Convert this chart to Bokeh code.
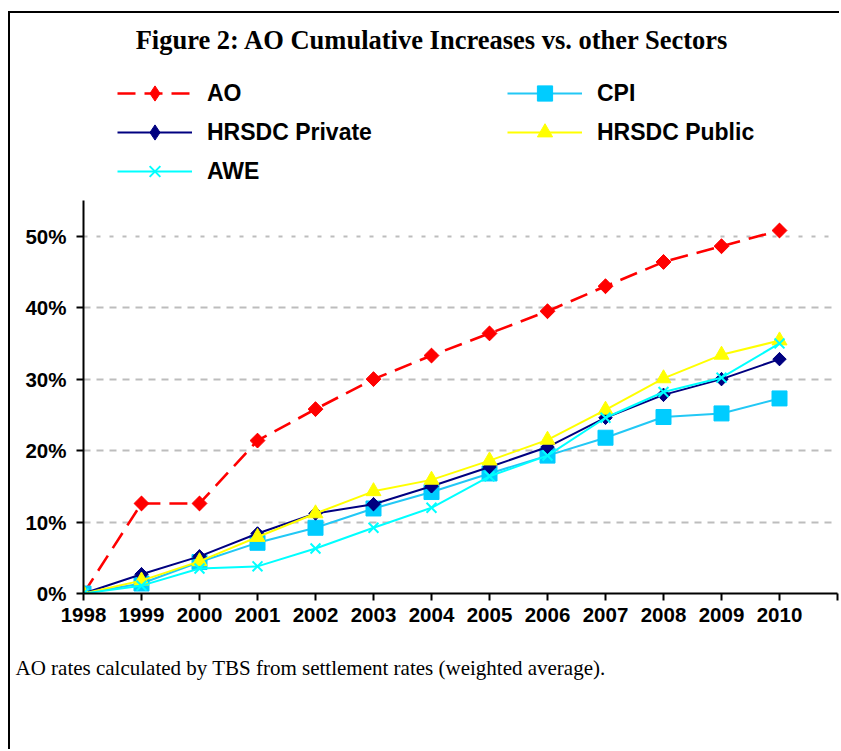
import numpy as np
from bokeh.plotting import figure
from bokeh.models import (Range1d, FixedTicker, PrintfTickFormatter, Legend, LegendItem,
                          Title, Label, Grid)
from bokeh.embed import file_html
from bokeh.resources import INLINE

# ---- data (cumulative increase, %) ----
years = [1998, 1999, 2000, 2001, 2002, 2003, 2004, 2005, 2006, 2007, 2008, 2009, 2010]
ao = [0, 12.6, 12.6, 21.4, 25.8, 30.0, 33.3, 36.4, 39.5, 43.0, 46.4, 48.6, 50.8]
cpi = [0, 1.4, 4.4, 7.1, 9.2, 11.9, 14.2, 16.8, 19.3, 21.8, 24.7, 25.2, 27.3]
hrsdc_private = [0, 2.7, 5.2, 8.4, 11.2, 12.5, 15.0, 17.7, 20.5, 24.6, 27.8, 30.0, 32.8]
hrsdc_public = [0, 1.8, 4.5, 7.9, 11.2, 14.3, 15.9, 18.6, 21.5, 25.7, 30.1, 33.4, 35.4]
awe = [0, 1.1, 3.5, 3.8, 6.3, 9.2, 12.0, 16.4, 19.3, 24.6, 28.2, 30.2, 35.0]

x_ticks = [1998, 1999, 2000, 2001, 2002, 2003, 2004, 2005, 2006, 2007, 2008, 2009, 2010, 2011]
y_ticks = [0, 10, 20, 30, 40, 50]
y_axis_max = 55

title_text = "Figure 2: AO Cumulative Increases vs. other Sectors"
note_text = "AO rates calculated by TBS from settlement rates (weighted average)."

# frame spans canvas top (page y=13) to page y=593; 55% must sit at page y=200
frame_h = 580
y_top = y_axis_max * frame_h / 393.0

p = figure(width=831, height=738, output_backend="svg", toolbar_location=None, title=None,
           x_range=Range1d(1998, 2011), y_range=Range1d(0, y_top),
           min_border_left=73, min_border_right=4, min_border_top=0, min_border_bottom=158,
           styles={"margin-left": "8px", "margin-top": "11px",
                   "border-left": "2px solid black", "border-top": "2px solid black"})
p.outline_line_color = None
p.background_fill_color = "white"
p.border_fill_color = "white"

# grid
p.xgrid.visible = False
p.ygrid.ticker = FixedTicker(ticks=[10, 20, 30, 40])
p.ygrid.grid_line_color = "#bdbdbd"
p.ygrid.grid_line_width = 2
p.ygrid.grid_line_dash = "7 6"
g50 = Grid(dimension=1, ticker=FixedTicker(ticks=[50]), grid_line_color="#bdbdbd",
           grid_line_width=2, grid_line_dash="4 9")
p.add_layout(g50)

# axes
for ax in (p.xaxis, p.yaxis):
    ax.axis_line_color = "black"
    ax.axis_line_width = 2
    ax.major_tick_line_color = "black"
    ax.major_tick_line_width = 2
    ax.major_tick_in = 0
    ax.major_tick_out = 7
    ax.minor_tick_line_color = None
    ax.major_label_text_font = "Liberation Sans"
    ax.major_label_text_font_style = "bold"
    ax.major_label_text_font_size = "20.5px"
    ax.major_label_text_color = "black"
p.xaxis.ticker = FixedTicker(ticks=x_ticks)
p.xaxis.major_label_overrides = {2011: ""}
p.xaxis.major_label_standoff = 7
p.yaxis.ticker = FixedTicker(ticks=y_ticks)
p.yaxis.bounds = (0, y_axis_max)
p.yaxis.formatter = PrintfTickFormatter(format="%d%%")
p.yaxis.major_label_standoff = 10

# series
l_ao = p.line(years, ao, line_color="#ff0000", line_width=2.6, line_dash="18 9")
d_ao = p.scatter(years, ao, marker="diamond", size=14,
                 fill_color="#ff0000", line_color="#ff0000")
s_ao = p.scatter(years, ao, marker="square", angle=np.pi / 4, size=10.5,
                 fill_color="#ff0000", line_color="#ff0000")
l_cpi = p.line(years, cpi, line_color="#22c8f5", line_width=2)
s_cpi = p.scatter(years, cpi, marker="square", size=15, fill_color="#00ccff", line_color="#00ccff")
l_pri = p.line(years, hrsdc_private, line_color="#000080", line_width=2)
d_pri = p.scatter(years, hrsdc_private, marker="diamond", size=13,
                  fill_color="#000080", line_color="#000080")
s_pri = p.scatter(years, hrsdc_private, marker="square", angle=np.pi / 4, size=9.5,
                  fill_color="#000080", line_color="#000080")
l_pub = p.line(years, hrsdc_public, line_color="#ffff00", line_width=2)
s_pub = p.scatter(years, hrsdc_public, marker="triangle", size=15,
                  fill_color="#ffff00", line_color="#ffff00")
l_awe = p.line(years, awe, line_color="#00ffff", line_width=2)
s_awe = p.scatter(years, awe, marker="x", size=14, line_color="#00ffff", line_width=2)

legend = Legend(items=[
    LegendItem(label="AO", renderers=[l_ao, d_ao]),
    LegendItem(label="CPI", renderers=[l_cpi, s_cpi]),
    LegendItem(label="HRSDC Private", renderers=[l_pri, d_pri]),
    LegendItem(label="HRSDC Public", renderers=[l_pub, s_pub]),
    LegendItem(label="AWE", renderers=[l_awe, s_awe]),
], orientation="horizontal", ncols=2, location=(34, 403),
    glyph_width=75, glyph_height=38, label_standoff=15, label_width=299, label_height=38,
    spacing=1, padding=0, margin=0, border_line_alpha=0, background_fill_alpha=0,
    label_text_font="Liberation Sans", label_text_font_style="bold",
    label_text_font_size="23px", label_text_color="black")
p.add_layout(legend)

title = Label(x=349, y=554, x_units="screen", y_units="screen", text=title_text,
              text_align="center", text_baseline="alphabetic", text_font="Liberation Serif",
              text_font_style="bold", text_font_size="26.5px", text_color="black")
p.add_layout(title)

note = Title(text=note_text, align="left", offset=-68, standoff=58,
             text_font="Liberation Serif", text_font_style="normal",
             text_font_size="21px", text_color="black")
p.add_layout(note, "below")

open("out.html", "w").write(file_html(p, INLINE))
